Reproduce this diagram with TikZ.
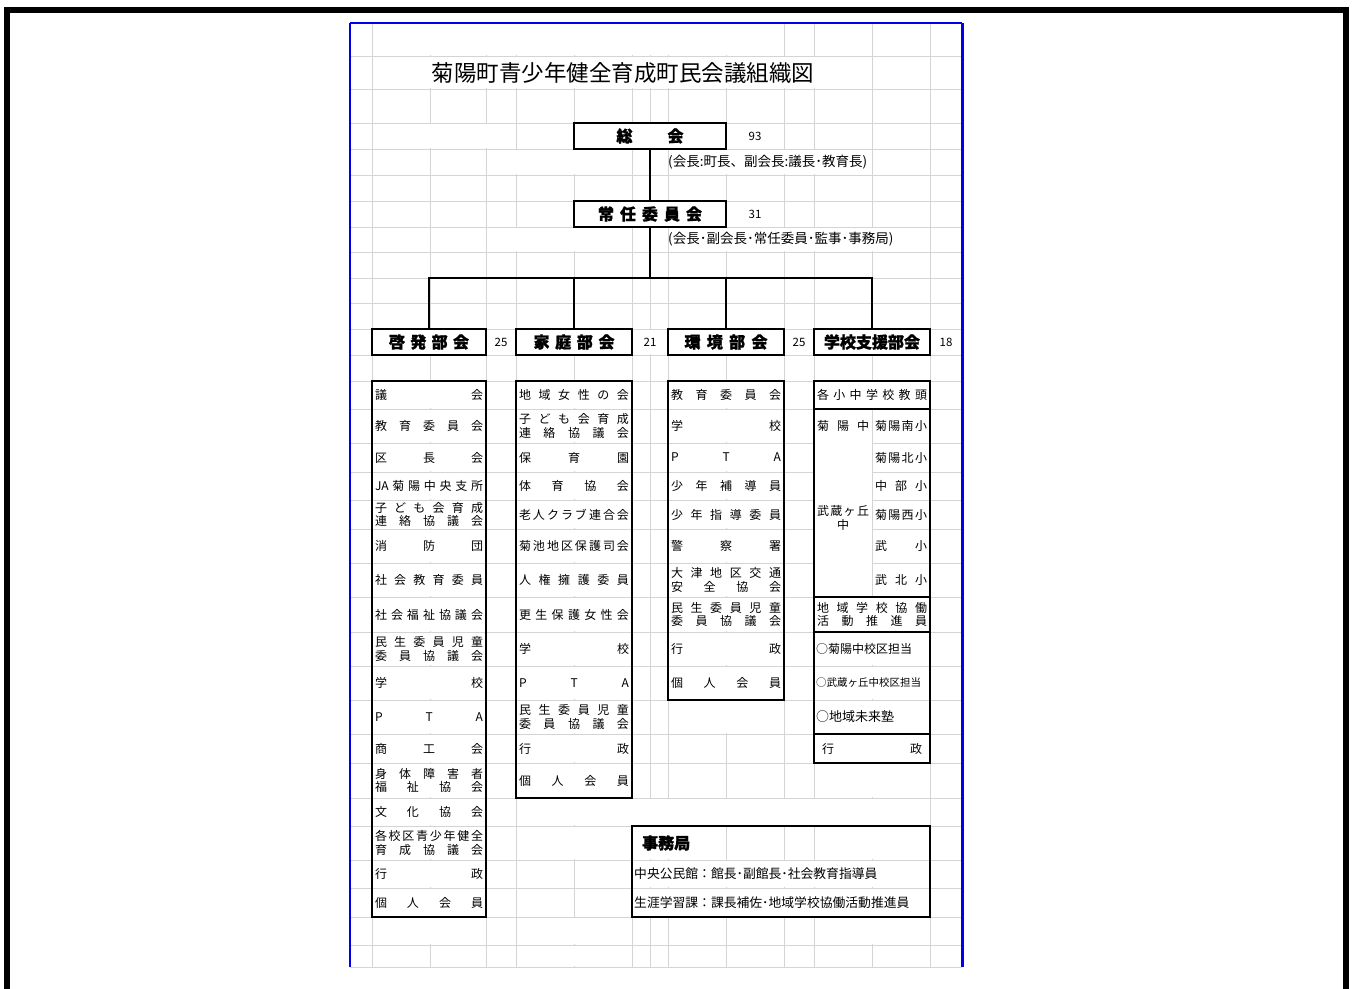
\documentclass[tikz,border=0pt]{standalone}
\usepackage{fontspec}
\setmainfont{Noto Sans CJK JP}[BoldFeatures={FakeBold=1.2}]
\usepackage{tikz}
\definecolor{gridgray}{RGB}{212, 212, 212}
\definecolor{pageblue}{RGB}{0, 0, 235}

% spread the characters of #2 evenly over a box of width #1
\makeatletter
\def\dist@stop{\dist@end}
\def\dist@loop#1{\def\dist@tmp{#1}%
  \ifx\dist@tmp\dist@stop\else\hfill#1\expandafter\dist@loop\fi}
\def\dist@first#1{#1\dist@loop}
\newcommand{\dist}[2]{\makebox[#1][l]{\dist@first#2\dist@end}}
\makeatother
\def\dlwidth{108pt}
\newcommand{\dl}[1]{\dist{\dlwidth}{#1}}

\tikzset{
  gridline/.style={gridgray, line width=0.9},
  boxline/.style={black, line width=1.3},
  link/.style={black, line width=1.3},
  headbox/.style={draw, line width=1.3, fill=white, inner sep=0,
                  minimum height=26, font=\fontsize{16}{16}\selectfont\bfseries},
  num/.style={inner sep=0, font=\fontsize{11.5}{12}\selectfont},
  note/.style={inner sep=0, anchor=west, font=\fontsize{13.5}{14}\selectfont},
  entry/.style={inner sep=0, align=center, font=\fontsize{12}{13.5}\selectfont}
}

\begin{document}
\begin{tikzpicture}[x=1pt, y=-1pt]
  \useasboundingbox (0, 0) rectangle (1352, 988);
  \clip (0, 0) rectangle (1352, 988);
  \fill[white] (0, 0) rectangle (1352, 988);

  \draw[line width=6] (7, 10) rectangle (1346, 1020);

  % sheet grid
  \foreach \x in {372, 430, 486, 516, 574, 632, 650, 668, 726, 784, 814, 872, 930} {
    \draw[gridline] (\x, 23) -- (\x, 967);
  }
  \foreach \y in {56, 89, 123, 149, 175, 201, 227, 252, 278, 303, 329, 355, 381,
                  409, 443, 472, 500, 529, 563, 597, 632, 666, 700, 734, 763,
                  798, 826, 860, 888, 917, 945, 967} {
    \draw[gridline] (350, \y) -- (962, \y);
  }

  % cells where the lines are hidden
  \foreach \xa/\ya/\xb/\yb in {372/23/784/56, 372/56/872/89, 372/123/516/149,
                               486/149/632/175, 668/149/872/175, 486/227/632/252,
                               668/227/930/252, 632/329/668/355, 668/700/784/734,
                               814/763/930/798, 516/798/930/826, 516/826/632/860,
                               632/826/726/860, 814/826/930/860, 632/860/930/888,
                               632/888/930/917, 372/917/486/945, 516/917/632/945,
                               814/917/930/945, 516/945/632/967} {
    \fill[white] (\xa + 0.6, \ya + 0.6) rectangle (\xb - 0.6, \yb - 0.6);
  }

  \foreach \ya/\yb in {381/409, 409/443, 443/472, 472/500, 500/529, 529/563,
                       563/597, 597/632, 632/666, 666/700, 700/734, 734/763,
                       763/798, 798/826, 826/860, 860/888, 888/917} {
    \fill[white] (372.6, \ya + 0.6) rectangle (485.4, \yb - 0.6);
  }
  \foreach \ya/\yb in {381/409, 409/443, 443/472, 472/500, 500/529, 529/563,
                       563/597, 597/632, 632/666, 666/700, 700/734, 734/763,
                       763/798} {
    \fill[white] (516.6, \ya + 0.6) rectangle (631.4, \yb - 0.6);
  }
  \foreach \ya/\yb in {381/409, 409/443, 443/472, 472/500, 500/529, 529/563,
                       563/597, 597/632, 632/666, 666/700} {
    \fill[white] (668.6, \ya + 0.6) rectangle (783.4, \yb - 0.6);
  }
  \foreach \ya/\yb in {381/409, 409/597, 597/632, 632/666, 666/700, 700/734, 734/763} {
    \fill[white] (814.6, \ya + 0.6) rectangle (929.4, \yb - 0.6);
  }
  \foreach \y in {443, 472, 500, 529, 563} {
    \draw[gridline] (872, \y) -- (930, \y);
  }
  \draw[gridline] (872, 409) -- (872, 597);

  % page break lines
  \draw[pageblue, line width=1.2] (350, 23) -- (962, 23);
  \draw[pageblue, line width=1.8] (350, 23) -- (350, 967);
  \draw[pageblue, line width=3] (962, 23) -- (962, 967);

  \node[entry, font=\fontsize{22.5}{24}\selectfont] (title) at (623, 72.5)
    {菊陽町青少年健全育成町民会議組織図};

  \node[headbox, minimum width=152] (sokai) at (650, 136) {\dist{67pt}{総会}};
  \node[num] (sokaiNum) at (755, 136) {93};
  \node[note] (sokaiNote) at (668, 162) {(会長:町長、副会長:議長･教育長)};

  \node[headbox, minimum width=152] (jonin) at (650, 214) {\dist{104pt}{常任委員会}};
  \node[num] (joninNum) at (755, 214) {31};
  \node[note] (joninNote) at (668, 239.5) {(会長･副会長･常任委員･監事･事務局)};

  \node[headbox, minimum width=114] (keihatsu) at (429, 342) {\dist{80pt}{啓発部会}};
  \node[headbox, minimum width=116] (katei) at (574, 342) {\dist{81pt}{家庭部会}};
  \node[headbox, minimum width=116] (kankyo) at (726, 342) {\dist{83pt}{環境部会}};
  \node[headbox, minimum width=116] (gakko) at (872, 342) {学校支援部会};
  \node[num] (keihatsuNum) at (501, 342) {25};
  \node[num] (kateiNum) at (650, 342) {21};
  \node[num] (kankyoNum) at (799, 342) {25};
  \node[num] (gakkoNum) at (946, 342) {18};

  \coordinate (split) at (650, 278);
  \draw[link] (sokai) -- (jonin);
  \draw[link] (jonin) -- (split);
  \draw[link] (keihatsu.north) |- (split) -| (gakko.north);
  \draw[link] (katei) -- (katei |- split);
  \draw[link] (kankyo) -- (kankyo |- split);

  % member lists
  \draw[boxline] (372, 381) rectangle (486, 917);
  \draw[boxline] (516, 381) rectangle (632, 798);
  \draw[boxline] (668, 381) rectangle (784, 700);
  \draw[boxline] (814, 381) rectangle (930, 763);
  \foreach \y in {409, 597, 632, 734} {
    \draw[boxline] (814, \y) -- (930, \y);
  }
  \draw[boxline] (632, 826) rectangle (930, 917);

  \foreach \ya/\yb/\txt [count=\i] in {
      381/409/\dl{議会}, 409/443/\dl{教育委員会}, 443/472/\dl{区長会},
      472/500/\dl{{JA}菊陽中央支所},
      500/529/{\dl{子ども会育成}\\\dl{連絡協議会}},
      529/563/\dl{消防団}, 563/597/\dl{社会教育委員}, 597/632/\dl{社会福祉協議会},
      632/666/{\dl{民生委員児童}\\\dl{委員協議会}},
      666/700/\dl{学校}, 700/734/\dl{PTA}, 734/763/\dl{商工会},
      763/798/{\dl{身体障害者}\\\dl{福祉協会}},
      798/826/\dl{文化協会},
      826/860/{\dl{各校区青少年健全}\\\dl{育成協議会}},
      860/888/\dl{行政}, 888/917/\dl{個人会員}} {
    \node[entry] (keihatsu-\i) at (429, {(\ya + \yb) / 2}) {\txt};
  }

  \def\dlwidth{110pt}
  \foreach \ya/\yb/\txt [count=\i] in {
      381/409/\dl{地域女性の会},
      409/443/{\dl{子ども会育成}\\\dl{連絡協議会}},
      443/472/\dl{保育園}, 472/500/\dl{体育協会}, 500/529/\dl{老人クラブ連合会},
      529/563/\dl{菊池地区保護司会}, 563/597/\dl{人権擁護委員},
      597/632/\dl{更生保護女性会}, 632/666/\dl{学校}, 666/700/\dl{PTA},
      700/734/{\dl{民生委員児童}\\\dl{委員協議会}},
      734/763/\dl{行政}, 763/798/\dl{個人会員}} {
    \node[entry] (katei-\i) at (574, {(\ya + \yb) / 2}) {\txt};
  }

  \foreach \ya/\yb/\txt [count=\i] in {
      381/409/\dl{教育委員会}, 409/443/\dl{学校}, 443/472/\dl{PTA},
      472/500/\dl{少年補導員}, 500/529/\dl{少年指導委員}, 529/563/\dl{警察署},
      563/597/{\dl{大津地区交通}\\\dl{安全協会}},
      597/632/{\dl{民生委員児童}\\\dl{委員協議会}},
      632/666/\dl{行政}, 666/700/\dl{個人会員}} {
    \node[entry] (kankyo-\i) at (726, {(\ya + \yb) / 2}) {\txt};
  }

  \node[entry] (gakko-1) at (872, 395) {\dl{各小中学校教頭}};
  \node[entry] (gakko-4) at (872, 614.5) {\dl{地域学校協働}\\\dl{活動推進員}};
  \def\dlwidth{52pt}
  \node[entry] (gakko-2) at (843, 426) {\dl{菊陽中}};
  \node[entry] (gakko-3) at (843, 518) {\dl{武蔵ヶ丘}\\中};
  \foreach \y/\txt [count=\i] in {426/\dl{菊陽南小}, 457.5/\dl{菊陽北小}, 486/\dl{中部小},
                                  514.5/\dl{菊陽西小}, 546/\dl{武小}, 580/\dl{武北小}} {
    \node[entry] (school-\i) at (901, \y) {\txt};
  }
  \node[entry, anchor=west] (gakko-5) at (816, 649) {○菊陽中校区担当};
  \node[entry, anchor=west, font=\fontsize{10.5}{12}\selectfont] (gakko-6) at (816, 683)
    {○武蔵ヶ丘中校区担当};
  \node[entry, anchor=west, font=\fontsize{13}{14}\selectfont] (gakko-7) at (816, 717)
    {○地域未来塾};
  \node[entry] (gakko-8) at (872, 748.5) {\dist{100pt}{行政}};

  % office
  \node[entry, anchor=west, font=\fontsize{16}{16}\selectfont\bfseries] (office) at (642, 843)
    {事務局};
  \node[entry, anchor=west, font=\fontsize{12.8}{14}\selectfont] (office-1) at (634, 874)
    {中央公民館：館長･副館長･社会教育指導員};
  \node[entry, anchor=west, font=\fontsize{12.8}{14}\selectfont] (office-2) at (634, 902.5)
    {生涯学習課：課長補佐･地域学校協働活動推進員};

\end{tikzpicture}
\end{document}
